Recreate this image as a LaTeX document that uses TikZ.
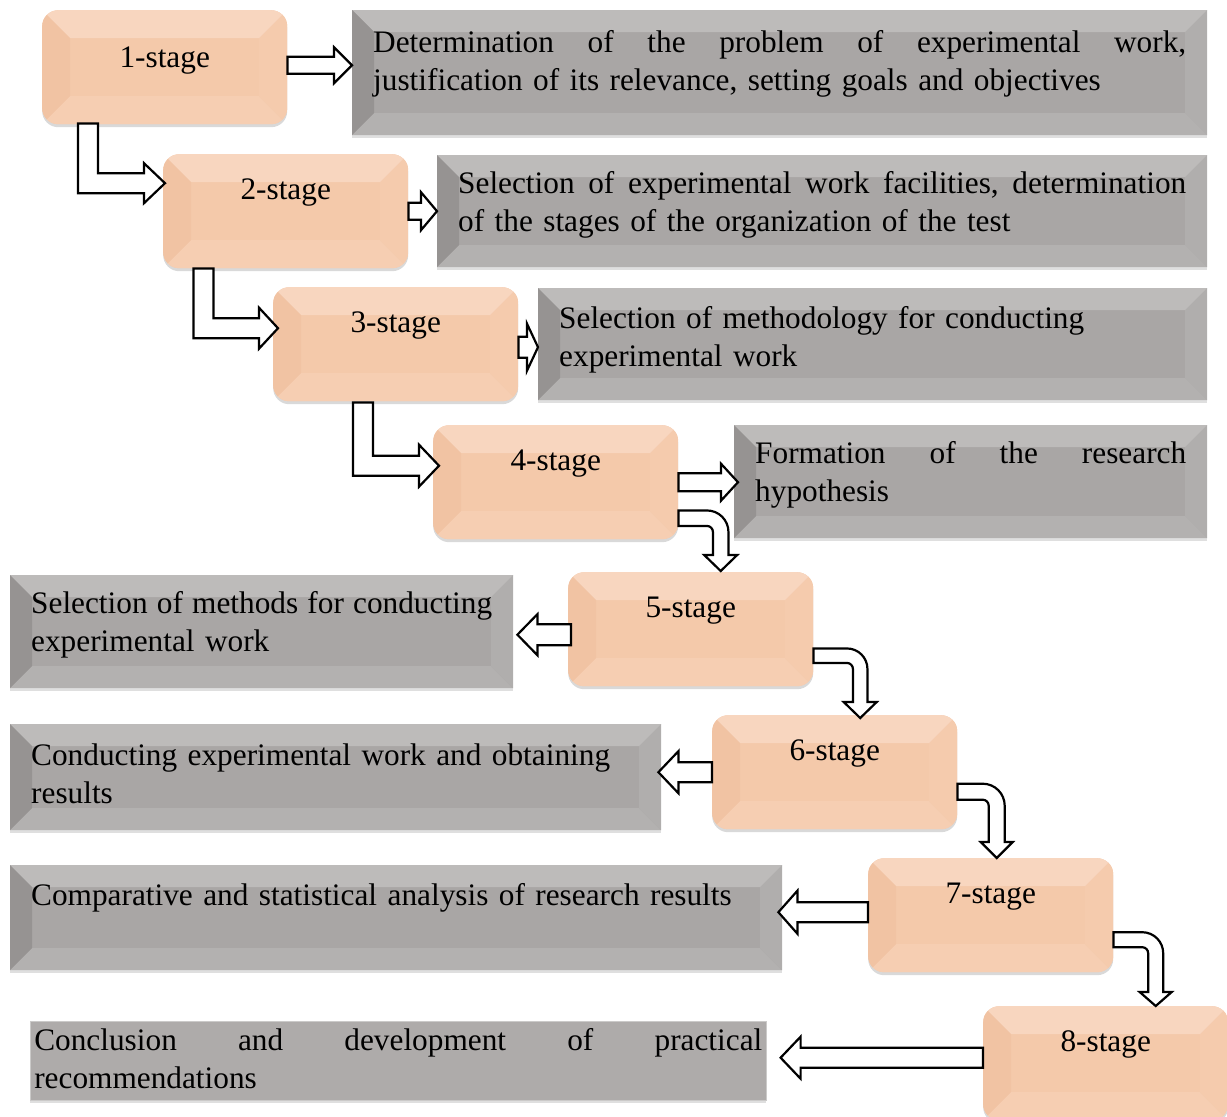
\documentclass[tikz,border=0pt]{standalone}
\usepackage{fontspec}
\setmainfont{Liberation Serif}
\usetikzlibrary{
    calc,
    shadows
}
\hyphenpenalty=10000
\exhyphenpenalty=10000

\definecolor{peach}{HTML}{F4C9AA}
\definecolor{peachtop}{HTML}{F8D6BF}
\definecolor{peachleft}{HTML}{F1C3A3}
\definecolor{peachbottom}{HTML}{F6CEB2}
\definecolor{peachright}{HTML}{F5CBAD}
\definecolor{slate}{HTML}{A9A6A5}
\definecolor{slatetop}{HTML}{BDBBBA}
\definecolor{slateleft}{HTML}{969392}
\definecolor{slatebottom}{HTML}{B3B1B0}
\definecolor{slateright}{HTML}{B0AEAD}
\definecolor{slateflat}{HTML}{AEABAA}

\tikzset{
    bevel/.style n args={5}{
        path picture={
            \fill[#2, sharp corners] (path picture bounding box.north west)
                -- (path picture bounding box.north east)
                -- ([xshift=-#1,yshift=-#1]path picture bounding box.north east)
                -- ([xshift=#1,yshift=-#1]path picture bounding box.north west) -- cycle;
            \fill[#3, sharp corners] (path picture bounding box.north west)
                -- ([xshift=#1,yshift=-#1]path picture bounding box.north west)
                -- ([xshift=#1,yshift=#1]path picture bounding box.south west)
                -- (path picture bounding box.south west) -- cycle;
            \fill[#4, sharp corners] (path picture bounding box.south west)
                -- ([xshift=#1,yshift=#1]path picture bounding box.south west)
                -- ([xshift=-#1,yshift=#1]path picture bounding box.south east)
                -- (path picture bounding box.south east) -- cycle;
            \fill[#5, sharp corners] (path picture bounding box.north east)
                -- (path picture bounding box.south east)
                -- ([xshift=-#1,yshift=#1]path picture bounding box.south east)
                -- ([xshift=-#1,yshift=-#1]path picture bounding box.north east) -- cycle;
        }
    },
    stage/.style={
        rectangle,
        rounded corners=16pt,
        fill=peach,
        bevel={28pt}{peachtop}{peachleft}{peachbottom}{peachright},
        drop shadow={shadow xshift=0pt, shadow yshift=-3pt, opacity=.3},
        minimum width=245pt,
        minimum height=114pt,
        inner sep=0pt,
        anchor=north west,
        font=\fontsize{31.3pt}{38pt}\selectfont,
        text height=22pt,
        text depth=46pt
    },
    graybox/.style={
        rectangle,
        fill=slate,
        bevel={22pt}{slatetop}{slateleft}{slatebottom}{slateright},
        drop shadow={shadow xshift=0pt, shadow yshift=-3pt, opacity=.25},
        anchor=north west,
        inner xsep=21pt,
        inner ysep=0pt,
        align=left,
        font=\fontsize{31.3pt}{38pt}\selectfont
    },
    blockarrow/.style={
        draw=black,
        fill=white,
        line width=2.2pt,
        line join=miter
    }
}

% justified line of a given width (words separated by \hfill)
\newcommand{\spread}[2]{\leavevmode\hbox to #1{#2}}

% block arrows: tail, tip, shaft half width, head half width, head length
\newcommand{\arrowR}[5]{%
    \draw[blockarrow] let \p1=(#1), \p2=(#2) in
        (\x1,\y1+#3) -- (\x2-#5,\y1+#3) -- (\x2-#5,\y1+#4) -- (\x2,\y1)
        -- (\x2-#5,\y1-#4) -- (\x2-#5,\y1-#3) -- (\x1,\y1-#3) -- cycle;}
\newcommand{\arrowL}[5]{%
    \draw[blockarrow] let \p1=(#1), \p2=(#2) in
        (\x1,\y1+#3) -- (\x2+#5,\y1+#3) -- (\x2+#5,\y1+#4) -- (\x2,\y1)
        -- (\x2+#5,\y1-#4) -- (\x2+#5,\y1-#3) -- (\x1,\y1-#3) -- cycle;}
\newcommand{\arrowDR}[5]{%
    \draw[blockarrow] let \p1=(#1), \p2=(#2) in
        (\x1-#3,\y1) -- (\x1-#3,\y2-#3) -- (\x2-#5,\y2-#3) -- (\x2-#5,\y2-#4)
        -- (\x2,\y2) -- (\x2-#5,\y2+#4) -- (\x2-#5,\y2+#3) -- (\x1+#3,\y2+#3)
        -- (\x1+#3,\y1) -- cycle;}
% curved: tail, tip, shaft half width, head half width, head length, outer radius
\newcommand{\arrowRD}[6]{%
    \draw[blockarrow] let \p1=(#1), \p2=(#2) in
        (\x1,\y1+#3) -- (\x2+#3-#6,\y1+#3) arc[start angle=90, end angle=0, radius=#6]
        -- (\x2+#3,\y2+#5) -- (\x2+#4,\y2+#5) -- (\x2,\y2) -- (\x2-#4,\y2+#5)
        -- (\x2-#3,\y2+#5) -- (\x2-#3,\y1-#3-6pt) arc[start angle=0, end angle=90, radius=6pt]
        -- (\x1,\y1-#3) -- cycle;}

\begin{document}
\begin{tikzpicture}[x=1pt, y=1pt]

    \useasboundingbox (0,0) rectangle (1227,-1117);

    % Stages
    \node[stage, text depth=22pt] (s1) at (42,-10)    {1-stage};
    \node[stage]                  (s2) at (163,-154)  {2-stage};
    \node[stage]                  (s3) at (273,-287)  {3-stage};
    \node[stage]                  (s4) at (433,-425)  {4-stage};
    \node[stage]                  (s5) at (568,-572)  {5-stage};
    \node[stage]                  (s6) at (712,-715)  {6-stage};
    \node[stage]                  (s7) at (868,-858)  {7-stage};
    \node[stage]                  (s8) at (983,-1006) {8-stage};

    % Descriptions
    \node[graybox, text width=813pt, text height=42pt, text depth=83pt] (g1) at (352,-10)
        {\spread{813pt}{Determination\hfill of\hfill the\hfill problem\hfill of\hfill experimental\hfill work,}\\
         justification of its relevance, setting goals and objectives};
    \node[graybox, text width=728pt, text height=38pt, text depth=74pt] (g2) at (437,-155)
        {\spread{728pt}{Selection\hfill of\hfill experimental\hfill work\hfill facilities,\hfill determination}\\
         of the stages of the organization of the test};
    \node[graybox, text width=627pt, text height=40pt, text depth=72pt] (g3) at (538,-288)
        {Selection of methodology for conducting\\
         experimental work};
    \node[graybox, text width=431pt, text height=38pt, text depth=75pt] (g4) at (734,-425)
        {\spread{431pt}{Formation\hfill of\hfill the\hfill research}\\
         hypothesis};
    \node[graybox, text width=461pt, text height=38pt, text depth=75pt] (g5) at (10,-575)
        {\spread{461pt}{Selection\hfill of\hfill methods\hfill for\hfill conducting}\\
         experimental work};
    \node[graybox, text width=609pt, text height=41pt, text depth=65pt] (g6) at (10,-724)
        {Conducting experimental work and obtaining\\
         results};
    \node[graybox, text width=730pt, text height=40pt, text depth=65pt] (g7) at (10,-865)
        {Comparative and statistical analysis of research results};
    \node[graybox, path picture={}, drop shadow={opacity=0}, fill=slateflat,
          draw=slate!60!white, line width=.6pt, inner xsep=4pt,
          text width=728pt, text height=29pt, text depth=50pt] (g8) at (30,-1021)
        {\spread{728pt}{Conclusion\hfill and\hfill development\hfill of\hfill practical}\\
         recommendations};

    % Arrows to the descriptions
    \arrowR{$(s1.east)+(0,2)$}{g1.west}{8.5pt}{18pt}{18pt}
    \arrowR{s2.east}{g2.west}{8.5pt}{19pt}{16pt}
    \arrowR{$(s3.east)+(0,-3)$}{g3.west}{10.5pt}{23.5pt}{11pt}
    \arrowR{s4.east}{$(g4.west)+(4,0)$}{9pt}{18.5pt}{17pt}
    \arrowL{$(s5.west)+(3,-5.5)$}{$(g5.east)+(4,0)$}{10.5pt}{20.5pt}{20pt}
    \arrowL{s6.west}{$(g6.east)+(-3,0)$}{10pt}{21pt}{20pt}
    \arrowL{$(s7.west)+(0,3)$}{$(g7.east)+(-4,0)$}{10pt}{21.5pt}{19pt}
    \arrowL{$(s8.west)+(0,5.5)$}{$(g8.east)+(14,0)$}{10pt}{21pt}{20pt}

    % Arrows between the stages
    \arrowDR{$(s1.south west)+(46,1)$}{$(s2.west)+(2,28)$}{10pt}{20pt}{21pt}
    \arrowDR{$(s2.south west)+(40.5,0)$}{$(s3.west)+(5,16)$}{10pt}{20.5pt}{19pt}
    \arrowDR{$(s3.south west)+(90,-1)$}{$(s4.west)+(6,16.5)$}{10pt}{21pt}{20pt}
    \arrowRD{$(s4.east)+(0,-36)$}{$(s5.north)+(30,1)$}{7.75pt}{16.5pt}{16pt}{21.5pt}
    \arrowRD{$(s5.east)+(0,-26.5)$}{$(s6.north)+(25.5,-3)$}{7.25pt}{16.5pt}{16pt}{20.5pt}
    \arrowRD{$(s6.east)+(0,-19.5)$}{$(s7.north)+(6,0)$}{8pt}{16pt}{16pt}{22pt}
    \arrowRD{$(s7.east)+(0,-24.5)$}{$(s8.north)+(50,0)$}{7.5pt}{16pt}{14pt}{21pt}

\end{tikzpicture}
\end{document}
